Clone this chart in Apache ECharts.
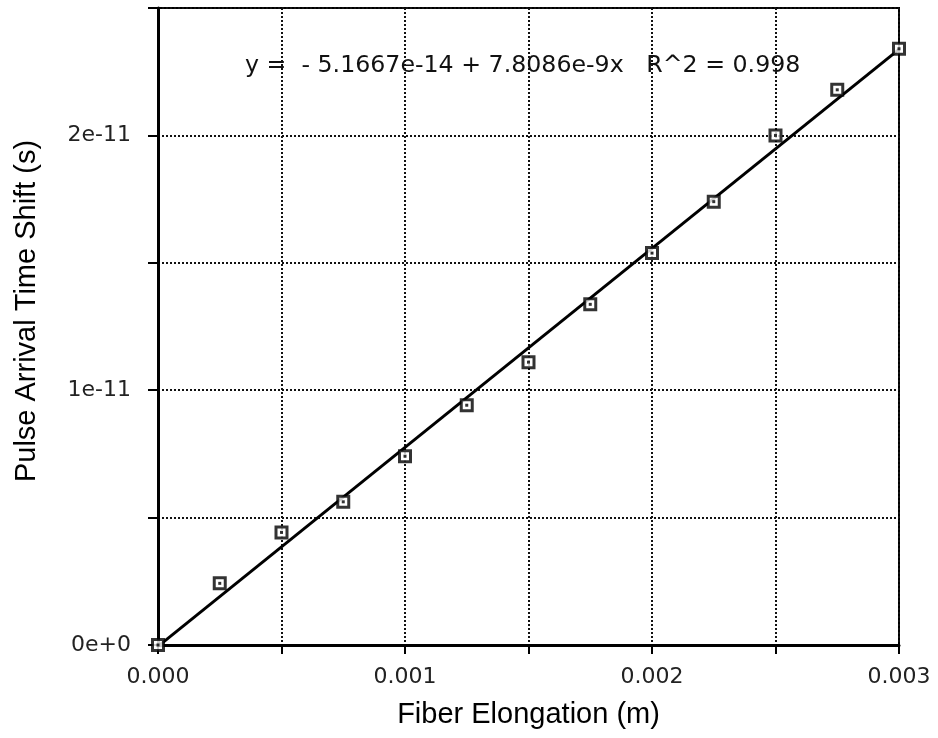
<!DOCTYPE html>
<html>
	<head>
		<meta charset="utf-8">
		<title>Pulse Arrival Time Shift</title>
		<script src="https://cdn.jsdelivr.net/npm/echarts@6/dist/echarts.min.js"></script>
	</head>
	<body style="margin:0;background:#fff;">
		<div id="main" style="width: 938px;height:738px;"></div>
		<script>
		// measured points (elongation in m, time shift in s)
		var elong = [0, 0.00025, 0.0005, 0.00075, 0.001, 0.00125, 0.0015, 0.00175, 0.002, 0.00225, 0.0025, 0.00275, 0.003];
		var shift = [0, 2.42e-12, 4.42e-12, 5.62e-12, 7.41e-12, 9.41e-12, 11.1e-12, 13.37e-12, 15.38e-12, 17.4e-12, 20.0e-12, 21.79e-12, 23.4e-12];
		// fit from the caption
		var fitB = -5.1667e-14;
		var fitM = 7.8086e-9;
		var fitX = [0, 0.003];
		var xLabels = ['0.000', '0.001', '0.002', '0.003'];
		var yLabels = ['0e+0', '1e-11', '2e-11'];

		var pts = [];
		for (var i = 0; i < elong.length; i++) {
			pts.push([elong[i], shift[i]]);
		}
		var fitPts = [];
		for (var j = 0; j < fitX.length; j++) {
			fitPts.push([fitX[j], fitB + fitM * fitX[j]]);
		}

		var font = 'Liberation Sans, Arial, sans-serif';
		var tickFont = 'DejaVu Sans, sans-serif';
		var chart = echarts.init(document.getElementById('main'));
		var option = {
			animation: false,
			grid: {
				left: 158, top: 8, right: 39, bottom: 93,
				show: true, borderColor: '#000', borderWidth: 2
			},
			xAxis: {
				type: 'value', min: 0, max: 0.003, interval: 0.0005,
				name: 'Fiber Elongation (m)', nameLocation: 'middle', nameGap: 55,
				nameTextStyle: { fontFamily: font, fontSize: 29, color: '#000' },
				axisLine: { lineStyle: { color: '#000', width: 3 } },
				axisTick: { show: true, length: 9, lineStyle: { color: '#000', width: 2 } },
				axisLabel: {
					fontFamily: tickFont, fontSize: 22, color: '#222', margin: 21,
					formatter: function (v) {
						var k = Math.round(v / 0.0005);
						return k % 2 === 0 ? xLabels[k / 2] : '';
					}
				},
				splitLine: { show: true, lineStyle: { color: '#111', width: 2, type: 'dotted' } }
			},
			yAxis: {
				type: 'value', min: 0, max: 2.5e-11, interval: 5e-12,
				axisLine: { lineStyle: { color: '#000', width: 3 } },
				axisTick: { show: true, length: 10, lineStyle: { color: '#000', width: 2 } },
				axisLabel: {
					fontFamily: tickFont, fontSize: 22, color: '#222', margin: 27,
					formatter: function (v) {
						var k = Math.round(v / 5e-12);
						return k % 2 === 0 && k / 2 < yLabels.length ? yLabels[k / 2] : '';
					}
				},
				splitLine: { show: true, lineStyle: { color: '#111', width: 2, type: 'dotted' } }
			},
			graphic: [
				{
					type: 'text', x: 245, y: 54,
					style: {
						text: 'y =  - 5.1667e-14 + 7.8086e-9x   R^2 = 0.998',
						font: '23.7px ' + tickFont, fill: '#111'
					}
				},
				{
					type: 'text', x: 27, y: 311, rotation: Math.PI / 2,
					style: {
						text: 'Pulse Arrival Time Shift (s)',
						font: '29px ' + font, fill: '#000',
						align: 'center', verticalAlign: 'middle'
					}
				}
			],
			series: [
				{
					type: 'line', data: fitPts, symbol: 'none',
					lineStyle: { color: '#000', width: 3 }, z: 3
				},
				{
					type: 'scatter', data: pts, symbol: 'rect', symbolSize: 11,
					itemStyle: { color: '#fff', borderColor: '#000', borderWidth: 3 }, z: 4
				},
				{
					type: 'scatter', data: pts, symbol: 'rect', symbolSize: 3,
					itemStyle: { color: '#000' }, z: 5
				}
			]
		};
		chart.setOption(option);
		</script>
	</body>
</html>
